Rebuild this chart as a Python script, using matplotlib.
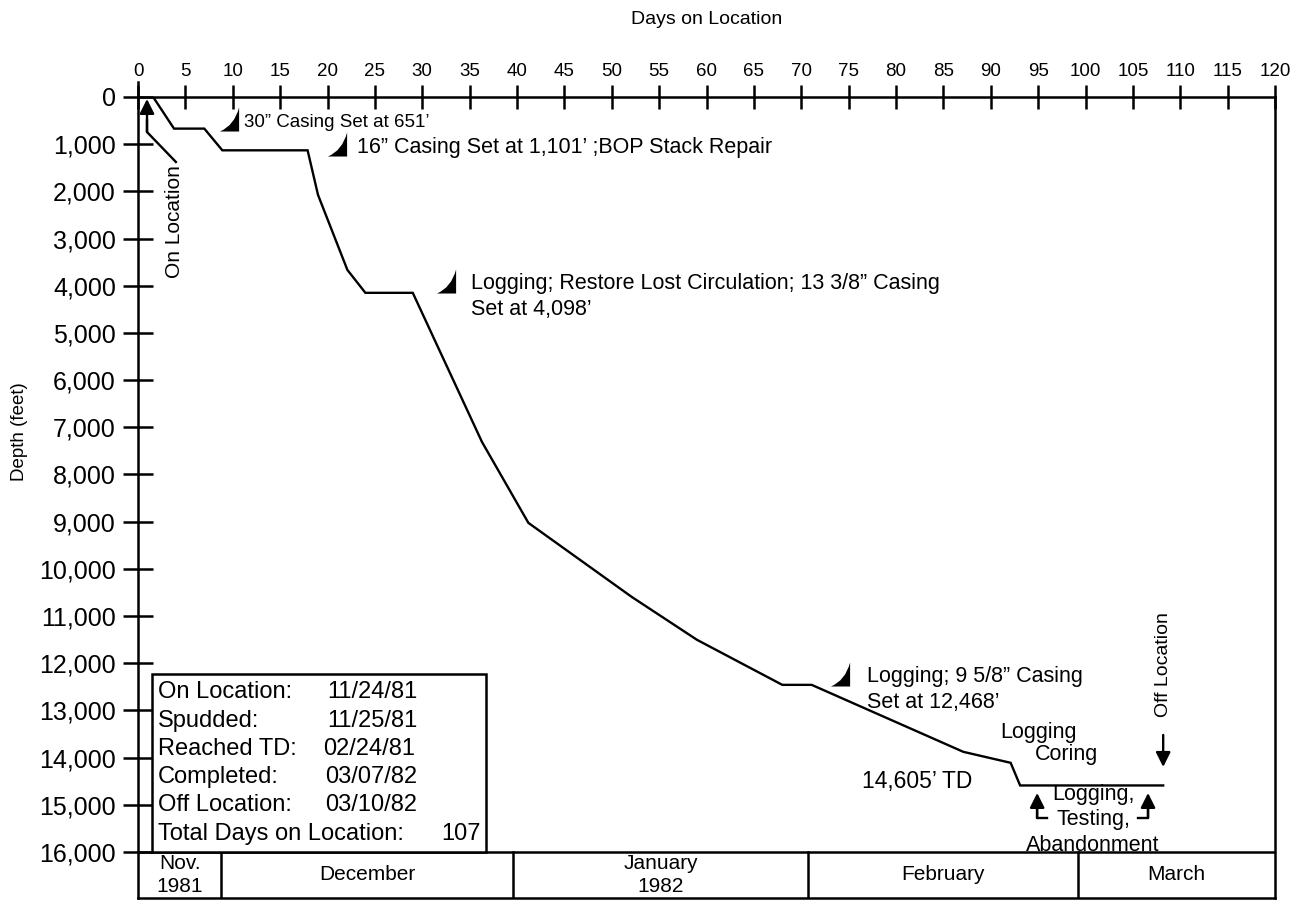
import matplotlib
matplotlib.use("Agg")
import matplotlib.pyplot as plt
import numpy as np
from matplotlib.path import Path
from matplotlib.patches import Rectangle

plt.rcParams['font.family'] = ['Liberation Sans', 'DejaVu Sans']

# well depth vs days on location
days = [1.6, 3.8, 7.0, 8.9, 17.9, 19.0, 22.1, 24.0, 29.0, 36.3, 41.2,
        52.1, 59.0, 68.0, 71.1, 87.1, 92.1, 93.1, 108.2]
depth = [0, 670, 670, 1130, 1130, 2076, 3665, 4150, 4150, 7309, 9025,
         10593, 11504, 12458, 12458, 13877, 14110, 14590, 14590]

x_ticks = list(range(0, 121, 5))
y_ticks = list(range(0, 16001, 1000))

# month band along the bottom
month_edges = [0, 8.8, 39.6, 70.7, 99.2, 120]
month_names = ['Nov.\n1981', 'December', 'January\n1982', 'February', 'March']

info_labels = ['On Location:', 'Spudded:', 'Reached TD:', 'Completed:',
               'Off Location:', 'Total Days on Location:']
info_values = ['11/24/81', '11/25/81', '02/24/81', '03/07/82', '03/10/82', '107']

# casing / logging events (marker position, label)
event_days = [9.6, 21.05, 32.5, 74.1]
event_depth = [456, 996, 3899, 12238]
event_text = ['30\u201d Casing Set at 651\u2019',
              '16\u201d Casing Set at 1,101\u2019 ;BOP Stack Repair',
              'Logging; Restore Lost Circulation; 13 3/8\u201d Casing\nSet at 4,098\u2019',
              'Logging; 9 5/8\u201d Casing\nSet at 12,468\u2019']

band_bottom = 16975

fig = plt.figure(figsize=(12.97, 9.02), dpi=100)
ax = fig.add_axes([138 / 1297, 1 - 898 / 902, (1275 - 138) / 1297, (898 - 97) / 902])
ax.set_xlim(0, 120)
ax.set_ylim(band_bottom, 0)

lw = 1.8
for s in ax.spines.values():
    s.set_linewidth(lw)
ax.plot([0, 0], [-320, 0], color='black', lw=lw, clip_on=False)

ax.set_xticks(x_ticks)
ax.set_xticklabels([str(v) for v in x_ticks])
ax.set_yticks(y_ticks)
ax.set_yticklabels(['0'] + [f'{v:,}' for v in y_ticks[1:]])
ax.tick_params(axis='x', top=True, bottom=False, labeltop=True, labelbottom=False,
               direction='inout', length=17, width=lw, pad=4, labelsize=13.5)
ax.tick_params(axis='y', direction='inout', length=22, width=lw, pad=5, labelsize=18)

fig.text(707 / 1297, 1 - 20 / 902, 'Days on Location', ha='center', va='center', fontsize=14)
fig.text(20 / 1297, 1 - 432 / 902, 'Depth (feet)', ha='center', va='center',
         rotation=90, fontsize=13.5)

# month band
ax.plot([0, 120], [16000, 16000], color='black', lw=lw)
for e in month_edges[1:-1]:
    ax.plot([e, e], [16000, band_bottom], color='black', lw=lw)
for i, name in enumerate(month_names):
    ax.text((month_edges[i] + month_edges[i + 1]) / 2, 16487, name,
            ha='center', va='center', fontsize=15, linespacing=1.3)

# depth curve
ax.plot(days, depth, color='black', lw=1.7, solid_joinstyle='miter')

# event markers: right triangle with concave hypotenuse
tri = Path([(0.8, -1), (0.8, 1), (0.4, -0.5), (-0.8, -1), (0.8, -1)],
           [Path.MOVETO, Path.LINETO, Path.CURVE3, Path.CURVE3, Path.CLOSEPOLY])
ax.plot(event_days, event_depth, linestyle='none', marker=tri, markersize=17.3,
        color='black', markeredgewidth=0)

fs = 15.5
ax.text(11.2, 530, event_text[0], ha='left', va='center', fontsize=13.5)
ax.text(23.1, 1080, event_text[1], ha='left', va='center', fontsize=fs)
ax.text(35.1, 4228, event_text[2], ha='left', va='center', fontsize=fs, linespacing=1.28)
ax.text(76.9, 12556, event_text[3], ha='left', va='center', fontsize=fs, linespacing=1.28)
ax.text(76.4, 14516, '14,605\u2019 TD', ha='left', va='center', fontsize=16.5)
ax.text(91.0, 13477, 'Logging', ha='left', va='center', fontsize=fs)
ax.text(94.7, 13943, 'Coring', ha='left', va='center', fontsize=fs)
ax.text(100.8, 15321, 'Logging,\nTesting,\nAbandonment', ha='center', va='center',
        fontsize=fs, linespacing=1.28)

# on / off location arrows
ax.text(3.85, 2649, 'On Location', rotation=90, ha='center', va='center', fontsize=15)
ax.plot([4.0, 0.95, 0.95], [1377, 742, 500], color='black', lw=1.7)
ax.annotate('', xy=(0.95, 42), xytext=(0.95, 742),
            arrowprops=dict(arrowstyle='-|>', mutation_scale=22, lw=1.7, color='black',
                            shrinkA=0, shrinkB=0))

ax.text(108.2, 12036, 'Off Location', rotation=90, ha='center', va='center', fontsize=14)
ax.annotate('', xy=(108.2, 14198), xytext=(108.2, 13520),
            arrowprops=dict(arrowstyle='-|>', mutation_scale=22, lw=1.7, color='black',
                            shrinkA=0, shrinkB=0))

for xa, xb in [(94.9, 95.9), (106.6, 105.5)]:
    ax.plot([xb, xa, xa], [15279, 15279, 15000], color='black', lw=1.7)
    ax.annotate('', xy=(xa, 14749), xytext=(xa, 15279),
                arrowprops=dict(arrowstyle='-|>', mutation_scale=22, lw=1.7, color='black',
                                shrinkA=0, shrinkB=0))

# info box
ax.add_patch(Rectangle((1.5, 12225), 35.2, 16000 - 12225, facecolor='white',
                       edgecolor='black', lw=lw, zorder=3))
rows_y = [12609, 13224, 13817, 14410, 15003, 15618]
val_x = [19.95, 19.95, 19.5, 19.7, 19.7, 32.0]
for lab, val, yy, vx in zip(info_labels, info_values, rows_y, val_x):
    ax.text(2.1, yy, lab, ha='left', va='center', fontsize=17, zorder=4)
    ax.text(vx, yy, val, ha='left', va='center', fontsize=17, zorder=4)

fig.savefig('out.png', dpi=100)
